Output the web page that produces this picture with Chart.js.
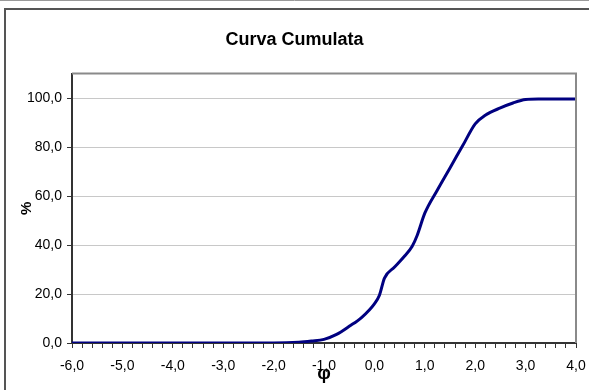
<!DOCTYPE html>
<html>
<head>
<meta charset="utf-8">
<script src="https://cdn.jsdelivr.net/npm/chart.js@4.4.1/dist/chart.umd.min.js"></script>
<style>
  html, body { margin: 0; padding: 0; background: #ffffff; }
  #wrap { width: 589px; height: 390px; position: relative; }
</style>
</head>
<body>
<div id="wrap"><canvas id="c" width="589" height="390"></canvas></div>
<script>
const chartTitle = 'Curva Cumulata';
const xTitle = 'φ';
const yTitle = '%';
const phi = [-6, -5, -4, -3, -2, -1.5, -1.25, -1, -0.75, -0.5, -0.25, 0, 0.1, 0.2, 0.4, 0.6, 0.75, 0.85, 1.0, 1.25, 1.5, 1.75, 2.0, 2.2, 2.5, 2.75, 3.0, 3.25, 4.0];
const cumulative = [0, 0, 0, 0, 0, 0.3, 0.8, 1.5, 3.5, 6.8, 10.5, 16, 19.5, 26.5, 31, 35.5, 39.5, 44, 53, 62.5, 71.5, 80.5, 89.5, 93, 96, 98, 99.4, 99.6, 99.6];
const xMin = -6, xMax = 4, xStep = 0.2;
const yMin = 0, yMax = 110, yStep = 20, yTopTick = 100;

const points = phi.map((p, i) => ({ x: p, y: cumulative[i] }));
const fmt = v => v.toFixed(1).replace('.', ',');
const FONT = 'Arial, "Liberation Sans", sans-serif';

const framePlugin = {
  id: 'frame',
  beforeDraw(chart) {
    const ctx = chart.ctx;
    ctx.save();
    ctx.fillStyle = '#ffffff';
    ctx.fillRect(0, 0, chart.width, chart.height);
    ctx.strokeStyle = '#9a9a9a';
    ctx.lineWidth = 1;
    ctx.beginPath(); ctx.moveTo(0, 0.5); ctx.lineTo(chart.width, 0.5); ctx.stroke();
    ctx.strokeStyle = '#555555';
    ctx.lineWidth = 2;
    ctx.strokeRect(5, 9, chart.width + 10, chart.height + 10);
    ctx.restore();
  },
  afterDatasetsDraw(chart) {
    const a = chart.chartArea, ctx = chart.ctx;
    ctx.save();
    ctx.strokeStyle = '#8a8a8a';
    ctx.lineWidth = 2;
    ctx.beginPath();
    ctx.moveTo(a.left, a.top); ctx.lineTo(a.right, a.top); ctx.lineTo(a.right, a.bottom);
    ctx.stroke();
    ctx.restore();
  }
};

new Chart(document.getElementById('c'), {
  type: 'scatter',
  data: {
    datasets: [{
      data: points,
      showLine: true,
      borderColor: '#000080',
      backgroundColor: '#000080',
      borderWidth: 3,
      pointRadius: 0,
      cubicInterpolationMode: 'monotone'
    }]
  },
  options: {
    responsive: false,
    animation: false,
    devicePixelRatio: 1,
    layout: { padding: { left: 13, right: 13, top: 19, bottom: 0 } },
    plugins: {
      legend: { display: false },
      tooltip: { enabled: false },
      title: {
        display: true,
        text: chartTitle,
        color: '#000000',
        font: { family: FONT, size: 18, weight: 'bold' },
        padding: { top: 10, bottom: 23 }
      }
    },
    scales: {
      x: {
        type: 'linear',
        min: xMin, max: xMax,
        afterFit: s => { s.height = 47; s.paddingLeft = 0; s.paddingRight = 0; },
        ticks: {
          stepSize: xStep,
          autoSkip: false,
          maxRotation: 0,
          color: '#000000',
          padding: 10,
          font: { family: FONT, size: 14 },
          callback: v => (Math.abs(v - Math.round(v)) < 1e-6 ? fmt(Math.round(v)) : '')
        },
        grid: { drawOnChartArea: false, drawTicks: true, tickLength: 5, color: '#333333', tickColor: '#333333' },
        border: { color: '#333333', width: 2 },
        title: {
          display: true, text: xTitle, color: '#000000',
          font: { family: FONT, size: 19, weight: 'bold' },
          padding: { top: 0, bottom: 5 }
        }
      },
      y: {
        type: 'linear',
        min: yMin, max: yMax,
        afterFit: s => { s.width = 59; },
        afterBuildTicks: s => { s.ticks = s.ticks.filter(t => t.value <= yTopTick); },
        ticks: {
          stepSize: yStep,
          color: '#000000',
          padding: 5,
          font: { family: FONT, size: 14 },
          callback: v => fmt(v)
        },
        grid: { color: '#c8c8c8', lineWidth: 1, tickLength: 5, tickColor: '#333333' },
        border: { color: '#333333', width: 2 },
        title: {
          display: true, text: yTitle, color: '#000000',
          font: { family: FONT, size: 15, weight: 'bold' },
          padding: { top: 5, bottom: 0 }
        }
      }
    }
  },
  plugins: [framePlugin]
});
</script>
</body>
</html>
